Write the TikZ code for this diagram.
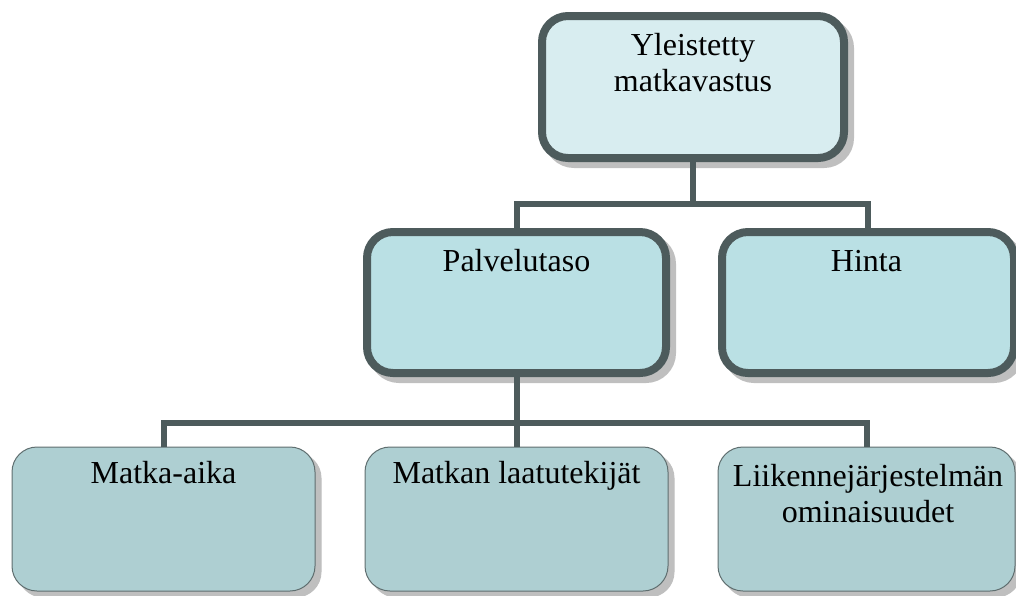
\documentclass[tikz,border=0pt]{standalone}
\usepackage{fontspec}
\setmainfont{Liberation Serif}
\usetikzlibrary{calc}
\definecolor{topfill}{HTML}{D8EDF0}
\definecolor{midfill}{HTML}{BAE0E4}
\definecolor{botfill}{HTML}{AECFD2}
\definecolor{edgec}{HTML}{4D5B5C}
\definecolor{thinedge}{HTML}{5F6E6F}
\definecolor{shadowc}{HTML}{BFBFBF}
\begin{document}
\begin{tikzpicture}[x=1pt,y=-1pt,
  shadowed/.style={preaction={fill=shadowc, draw=shadowc, transform canvas={xshift=6pt,yshift=-6pt}}},
  thickbox/.style={shadowed, draw=edgec, line width=8pt, rounded corners=26pt, outer sep=0pt, inner sep=0pt},
  thinbox/.style={shadowed, draw=thinedge, fill=botfill, line width=1pt, rounded corners=25pt, outer sep=0pt, inner sep=0pt, minimum width=303pt, minimum height=144pt},
  txt/.style={font=\fontsize{32}{36}\selectfont, align=center, anchor=base, inner sep=0pt, text=black},
  conn/.style={draw=edgec, line width=6pt}]
\useasboundingbox (0,0) rectangle (1016,595);
% boxes
\node[thickbox, fill=topfill, minimum width=302pt, minimum height=142pt] (top) at (693,87) {};
\node[thickbox, fill=midfill, minimum width=299pt, minimum height=141pt] (palv) at (516.5,302.5) {};
\node[thickbox, fill=midfill, minimum width=292pt, minimum height=141pt] (hinta) at (868,302.5) {};
\node[thinbox] (matka) at (163.5,519) {};
\node[thinbox] (laatu) at (516.5,519) {};
\node[thinbox, minimum width=297pt] (liik) at (866.5,519) {};
% texts (multi-line: base = baseline of the last line)
\node[txt] (ttop) at (693,91) {Yleistetty\\matkavastus};
\node[txt] (tpalv) at (516.5,271) {Palvelutaso};
\node[txt] (thinta) at (866.5,271) {Hinta};
\node[txt] (tmatka) at (163.5,483) {Matka-aika};
\node[txt] (tlaatu) at (516.5,483) {Matkan laatutekijät};
\node[txt] (tliik) at (868,522) {Liikennejärjestelmän\\ominaisuudet};
% connectors
\coordinate (j1) at ($(top.south)+(0,46)$);
\coordinate (j2) at ($(palv.south)+(0,50)$);
\draw[conn] (top.south) -- (j1);
\draw[conn] (j1) -| (palv.north);
\draw[conn] (j1) -| (hinta.north);
\draw[conn] (palv.south) -- (j2);
\draw[conn] (j2) -| (matka.north);
\draw[conn] (j2) -- (laatu.north);
\draw[conn] (j2) -| (liik.north);
\end{tikzpicture}
\end{document}
